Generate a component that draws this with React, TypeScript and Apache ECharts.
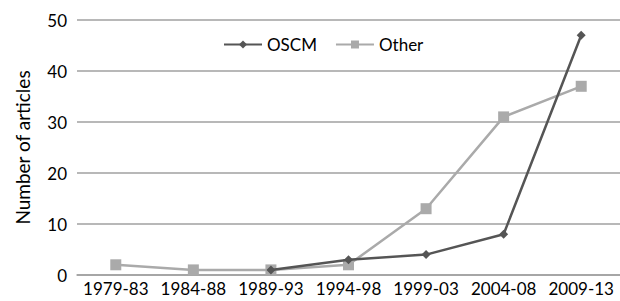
import React, { useEffect, useRef } from "react";
import * as echarts from "echarts";

const categories = ["1979-83", "1984-88", "1989-93", "1994-98", "1999-03", "2004-08", "2009-13"];
const oscmValues: (number | null)[] = [null, null, 1, 3, 4, 8, 47];
const otherValues: number[] = [2, 1, 1, 2, 13, 31, 37];
const yTicks = { min: 0, max: 50, interval: 10 };

const FONT = "Lato";

export default function App() {
  const ref = useRef<HTMLDivElement>(null);
  useEffect(() => {
    if (!ref.current) return;
    const chart = echarts.init(ref.current, undefined, { renderer: "svg" });
    chart.setOption({
      animation: false,
      backgroundColor: "#ffffff",
      textStyle: { fontFamily: FONT },
      legend: {
        top: 31,
        left: 218,
        itemWidth: 38,
        itemHeight: 10,
        itemGap: 18,
        textStyle: { fontFamily: FONT, fontSize: 17, color: "#000" },
        data: ["OSCM", "Other"],
      },
      grid: { left: 77, right: 0, top: 20, bottom: 26, containLabel: false },
      xAxis: {
        type: "category",
        data: categories,
        boundaryGap: true,
        axisLine: { show: true, lineStyle: { color: "#a0a0a0", width: 1.5 } },
        axisTick: { show: false },
        axisLabel: { interval: 0, fontFamily: FONT, fontSize: 17, color: "#000", margin: 5 },
      },
      yAxis: {
        type: "value",
        min: yTicks.min,
        max: yTicks.max,
        interval: yTicks.interval,
        name: "Number of articles",
        nameLocation: "middle",
        nameGap: 45,
        nameTextStyle: { fontFamily: FONT, fontSize: 19, color: "#000" },
        axisLine: { show: false },
        axisTick: { show: false },
        axisLabel: { fontFamily: FONT, fontSize: 17, color: "#000", margin: 10 },
        splitLine: { show: true, lineStyle: { color: "#a0a0a0", width: 1.5 } },
      },
      series: [
        {
          name: "OSCM",
          type: "line",
          data: oscmValues,
          symbol: "diamond",
          symbolSize: 9,
          lineStyle: { color: "#555555", width: 2.5 },
          itemStyle: { color: "#555555" },
          z: 3,
        },
        {
          name: "Other",
          type: "line",
          data: otherValues,
          symbol: "rect",
          symbolSize: 11,
          lineStyle: { color: "#aaaaaa", width: 2.5 },
          itemStyle: { color: "#aaaaaa" },
          z: 2,
        },
      ],
    });
    return () => chart.dispose();
  }, []);
  return <div ref={ref} style={{ width: 620, height: 301, position: "absolute", left: 0, top: 0 }} />;
}
